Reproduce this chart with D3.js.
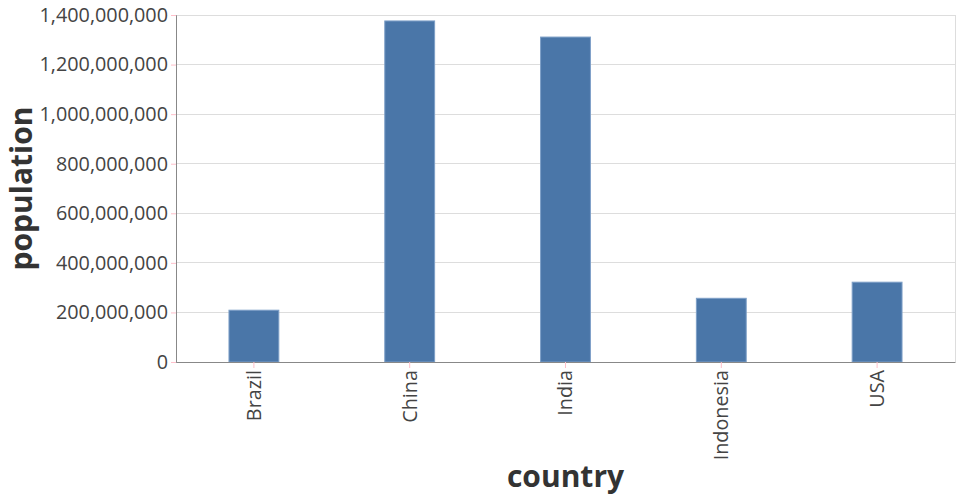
<!DOCTYPE html>
<html><head><meta charset="utf-8">
<script src="https://cdn.jsdelivr.net/npm/d3@7"></script>
<style>body{margin:0;background:#fff}svg{display:block}text{font-family:"Open Sans",sans-serif}</style>
</head><body><svg id="c" width="960" height="500"></svg>
<script>
const countries = ["Brazil","China","India","Indonesia","USA"];
const population = [209000000,1376000000,1311000000,257000000,322000000];
const yTicks = [0,200000000,400000000,600000000,800000000,1000000000,1200000000,1400000000];

const svg = d3.select("#c");
const L=176, R=955, T=15, B=362;
const x = d3.scaleBand().domain(countries).range([L,R]).paddingInner(0.68).paddingOuter(0.34);
const y = d3.scaleLinear().domain([0,1400000000]).range([B,T]);
const fmt = d3.format(",");

// gridlines
svg.append("g").selectAll("line").data(yTicks).join("line")
  .attr("x1",L).attr("x2",R).attr("y1",d=>y(d)).attr("y2",d=>y(d))
  .attr("stroke","#ddd").attr("stroke-width",1).attr("shape-rendering","crispEdges");
// right border
svg.append("line").attr("x1",R+0.5).attr("x2",R+0.5).attr("y1",T).attr("y2",B).attr("stroke","#ddd");

// bars
svg.append("g").selectAll("rect").data(countries).join("rect")
  .attr("x",d=>x(d)).attr("width",x.bandwidth())
  .attr("y",(d,i)=>y(population[i])).attr("height",(d,i)=>B-y(population[i]))
  .attr("fill","#4a76a8").attr("stroke","#7d9fc7").attr("stroke-width",1);

// y axis
const ya = svg.append("g").attr("transform",`translate(${L},0)`)
  .call(d3.axisLeft(y).tickValues(yTicks).tickFormat(fmt).tickSize(5).tickPadding(3));
ya.select(".domain").attr("stroke","#888");
ya.selectAll(".tick line").attr("stroke","pink");
ya.selectAll("text").attr("font-size","19.8px").attr("fill","#444").attr("font-family","Open Sans");

// x axis
const xa = svg.append("g").attr("transform",`translate(0,${B})`)
  .call(d3.axisBottom(x).tickSize(6).tickSizeOuter(0));
xa.select(".domain").attr("stroke","#888");
xa.selectAll(".tick line").attr("stroke","pink");
xa.selectAll("text").attr("font-size","19.8px").attr("fill","#444").attr("font-family","Open Sans")
  .attr("transform","rotate(-90)").attr("text-anchor","end").attr("x",-8).attr("y",0).attr("dy","0.35em");

// titles
svg.append("text").attr("transform",`translate(32,${(T+B)/2}) rotate(-90)`)
  .attr("text-anchor","middle").attr("font-size","30px").attr("font-weight","bold").attr("fill","#333")
  .text("population");
svg.append("text").attr("x",(L+R)/2).attr("y",487)
  .attr("text-anchor","middle").attr("font-size","30px").attr("font-weight","bold").attr("fill","#333")
  .text("country");
</script></body></html>
